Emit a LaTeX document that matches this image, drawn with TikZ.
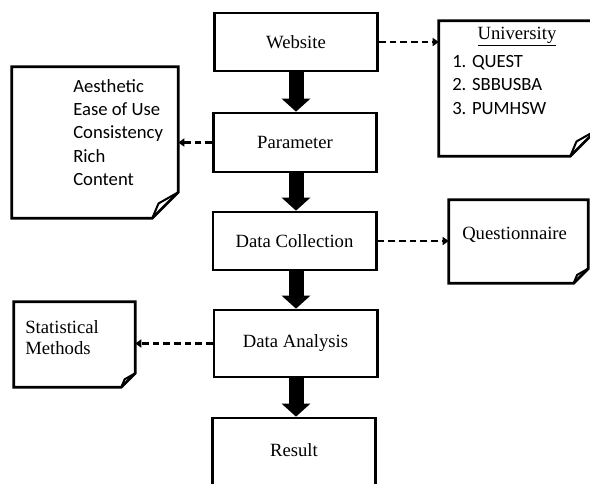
\documentclass[tikz,border=0pt]{standalone}
\usepackage{fontspec}
\setmainfont{Liberation Serif}
\newfontfamily\calfont{Carlito}
\usetikzlibrary{arrows.meta,calc}
\newcommand{\drawnote}[2]{%
  \draw[line width=2pt] (#1.north west) -- (#1.north east) -- ([yshift=#2]#1.south east) -- ([xshift=-#2]#1.south east) -- (#1.south west) -- cycle;
  \draw[line width=1.5pt,line join=round] ([xshift=-#2]#1.south east) -- ([xshift=-0.76*#2,yshift=0.57*#2]#1.south east) -- ([yshift=#2]#1.south east);
}
\begin{document}
\begin{tikzpicture}[x=0.75pt,y=-0.75pt,
  box/.style={draw,line width=2pt,inner sep=0pt,minimum width=122.5pt,font=\fontsize{14}{17}\selectfont},
  noteshape/.style={inner sep=0pt},
  bigarrow/.style={line width=11.25pt,-{Triangle[length=9.75pt,width=21pt]}},
  dasharrow/.style={line width=2pt,dash pattern=on 5pt off 3pt,-{Triangle[length=4.5pt,width=6pt]}},
  serifnote/.style={inner sep=0pt,align=left,anchor=west,font=\fontsize{14}{15.75}\selectfont},
  sansnote/.style={inner sep=0pt,align=left,anchor=west,font=\calfont\fontsize{14}{17.4}\selectfont}]
\useasboundingbox (0,0) rectangle (590,483);
\clip (0,0) rectangle (590,483);
% main boxes
\node[box,minimum height=43.5pt] (web) at (296,42) {Website};
\node[box,minimum height=44.25pt] (par) at (295,142.5) {Parameter};
\node[box,minimum height=43.5pt] (dc) at (294.5,241) {Data Collection};
\node[box,minimum height=50.25pt] (da) at (295.5,343.5) {Data Analysis};
\node[box,minimum height=52.5pt] (res) at (294,453) {};
\node[inner sep=0pt,font=\fontsize{14}{17}\selectfont] (restext) at (294,450) {Result};
% thick arrows
\draw[bigarrow] (web.south -| 296,0) -- (par.north -| 296,0);
\draw[bigarrow] (par.south -| 296,0) -- (dc.north -| 296,0);
\draw[bigarrow] (dc.south -| 296,0) -- (da.north -| 296,0);
\draw[bigarrow] (da.south -| 296,0) -- (res.north -| 296,0);
% notes
\node[noteshape,minimum width=124.5pt,minimum height=113.25pt] (aes) at (95,142.5) {};
\drawnote{aes}{19.5pt}
\node[sansnote] (aestext) at (73,132.5) {Aesthetic\\Ease of Use\\Consistency\\Rich\\Content};
\node[noteshape,minimum width=117.75pt,minimum height=101.25pt] (uni) at (517.5,88.5) {};
\drawnote{uni}{19.5pt}
\node[inner sep=0pt,font=\fontsize{14}{17}\selectfont] (unihead) at (517,37) {\underline{University}};
\node[sansnote] (unilist) at (452,85) {1. QUEST\\2. SBBUSBA\\3. PUMHSW};
\node[noteshape,minimum width=104.25pt,minimum height=62.25pt] (quest) at (518.5,241.5) {};
\drawnote{quest}{11pt}
\node[serifnote] (questtext) at (462,235) {Questionnaire};
\node[noteshape,minimum width=90.75pt,minimum height=63.75pt] (stat) at (74.5,344.5) {};
\drawnote{stat}{10.5pt}
\node[serifnote] (stattext) at (25,337.5) {Statistical\\Methods};
% dashed arrows
\draw[dasharrow] (web.east) -- (uni.west |- web.east);
\draw[dasharrow] (par.west) -- (aes.east |- par.west);
\draw[dasharrow] (dc.east) -- (quest.west |- dc.east);
\draw[dasharrow] (da.west) -- (stat.east |- da.west);
\end{tikzpicture}
\end{document}
